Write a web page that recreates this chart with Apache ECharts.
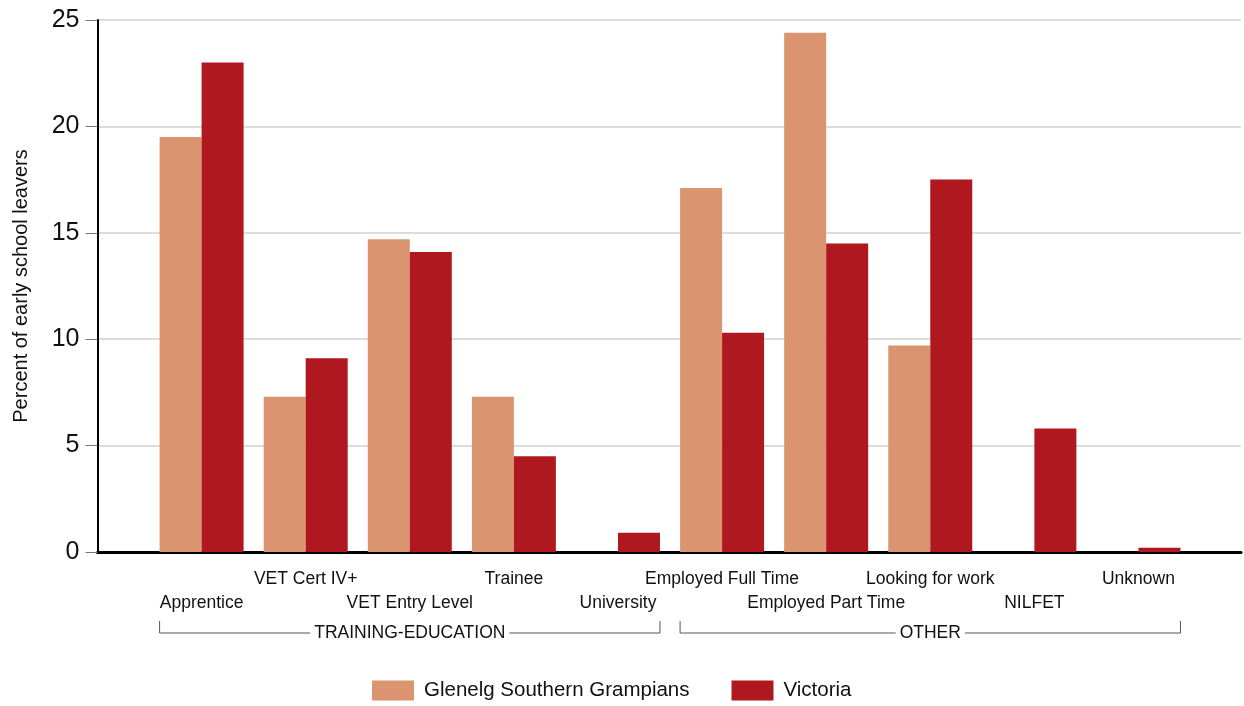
<!DOCTYPE html>
<html>
<head>
<meta charset="utf-8">
<script src="https://cdn.jsdelivr.net/npm/echarts@6/dist/echarts.min.js"></script>
<style>
  html, body { margin: 0; padding: 0; background: #fff; }
  #chart { width: 1244px; height: 706px; }
</style>
</head>
<body>
<div id="chart"></div>
<script>
const categories = ['Apprentice', 'VET Cert IV+', 'VET Entry Level', 'Trainee', 'University',
  'Employed Full Time', 'Employed Part Time', 'Looking for work', 'NILFET', 'Unknown']
const glenelg = [19.5, 7.3, 14.7, 7.3, 0, 17.1, 24.4, 9.7, 0, 0]
const victoria = [23.0, 9.1, 14.1, 4.5, 0.9, 10.3, 14.5, 17.5, 5.8, 0.2]
const groups = [
  { name: 'TRAINING-EDUCATION', from: 0, to: 4 },
  { name: 'OTHER', from: 5, to: 9 }
]

const font = 'Liberation Sans, Arial, sans-serif'
const chart = echarts.init(document.getElementById('chart'))

chart.setOption({
  animation: false,
  textStyle: { fontFamily: font },
  grid: { left: 97.5, right: 0, top: 20, bottom: 154 },
  legend: {
    left: 372, top: 680, icon: 'rect', padding: 0,
    itemWidth: 42, itemHeight: 20, itemGap: 42,
    textStyle: { fontSize: 20.5, color: '#111', fontFamily: font, padding: [0, 0, 0, 5] }
  },
  xAxis: {
    type: 'value', min: -1, max: 9.985, interval: 1,
    axisLine: { show: true, onZero: false, lineStyle: { color: '#000', width: 3 } },
    axisTick: { show: false },
    splitLine: { show: false },
    axisLabel: {
      margin: 15, fontSize: 17.5, lineHeight: 24, color: '#111',
      formatter: v => {
        const name = categories[v]
        if (!name) return ''
        return v % 2 === 0 ? '\n' + name : name
      }
    }
  },
  yAxis: {
    type: 'value', min: 0, max: 25, interval: 5,
    name: 'Percent of early school leavers',
    nameLocation: 'middle', nameGap: 66,
    nameTextStyle: { fontSize: 20, color: '#111' },
    axisLine: { show: true, onZero: false, lineStyle: { color: '#000', width: 2 } },
    axisTick: { show: true, length: 12, lineStyle: { color: '#777' } },
    splitLine: { lineStyle: { color: '#dcdcdc', width: 2 } },
    axisLabel: { margin: 18, fontSize: 25, color: '#111' }
  },
  series: [
    {
      name: 'Glenelg Southern Grampians', type: 'bar', barWidth: 42, barGap: '0%',
      itemStyle: { color: '#DA9470' },
      data: glenelg.map((v, i) => [i, v])
    },
    {
      name: 'Victoria', type: 'bar', barWidth: 42, barGap: '0%',
      itemStyle: { color: '#B01820' },
      data: victoria.map((v, i) => [i, v])
    }
  ]
})

// group brackets under the labels
const graphics = []
groups.forEach(g => {
  const x1 = chart.convertToPixel({ xAxisIndex: 0 }, g.from) - 42
  const x2 = chart.convertToPixel({ xAxisIndex: 0 }, g.to) + 42
  const y = 633
  graphics.push({
    type: 'polyline', silent: true,
    shape: { points: [[x1, y - 12], [x1, y], [x2, y], [x2, y - 12]] },
    style: { stroke: '#555', lineWidth: 1, fill: null }
  })
  graphics.push({
    type: 'text', silent: true, x: (x1 + x2) / 2, y: y, z: 10,
    style: {
      text: g.name, fontSize: 17.5, fontFamily: font, fill: '#111',
      align: 'center', verticalAlign: 'middle',
      backgroundColor: '#fff', padding: [0, 4]
    }
  })
})
chart.setOption({ graphic: graphics })
</script>
</body>
</html>
